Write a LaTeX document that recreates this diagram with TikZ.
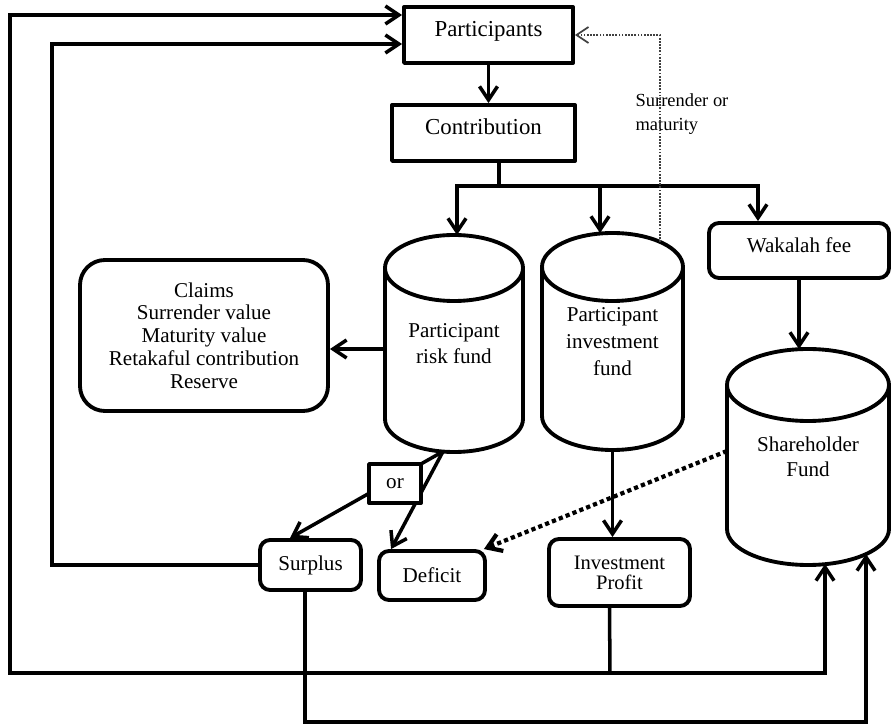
\documentclass[tikz,border=0pt]{standalone}
\usepackage{fontspec}
\setmainfont{Liberation Serif}
\usetikzlibrary{arrows.meta,positioning}
\newcommand{\fundtank}[3]{\draw[boxline]([yshift=-#3]#1.north west)--([yshift=#3]#1.south west) arc[start angle=180,end angle=360,x radius=#2,y radius=#3]--([yshift=-#3]#1.north east) arc[start angle=0,end angle=360,x radius=#2,y radius=#3];}

\begin{document}
\begin{tikzpicture}[
boxline/.style={line width=2.2pt,line join=round},
box/.style={draw,boxline,align=center,font=\fontsize{12}{13}\selectfont},
rbox/.style={box,rounded corners=0.2cm},
tank/.style={outer sep=0pt,align=center,font=\fontsize{12}{14.5}\selectfont},
link/.style={line width=2pt},
arr/.style={link,-{Straight Barb[length=2.7mm,width=3.6mm]}},
dotline/.style={line width=1pt,black!75,dash pattern=on 1pt off 0.8pt,-{Straight Barb[length=2.4mm,width=3.2mm]}},
dotarr/.style={line width=2.4pt,dash pattern=on 2.4pt off 1.8pt,-{Straight Barb[length=2.7mm,width=3.6mm]}}
]
\useasboundingbox (0,0) rectangle (17.86,-14.56);
\node[box,minimum width=3.38cm,minimum height=1.12cm,text depth=0.26cm,font=\fontsize{13}{14}\selectfont](part) at (9.77,-0.7){Participants};
\node[box,minimum width=3.66cm,minimum height=1.12cm,text depth=0.24cm,font=\fontsize{13}{14}\selectfont](contr) at (9.67,-2.66){Contribution};
\node[rbox,minimum width=3.6cm,minimum height=1.1cm,text depth=0.2cm](wak) at (15.98,-5.01){Wakalah fee};
\node[rbox,rounded corners=0.5cm,minimum width=4.96cm,minimum height=3.02cm](claims) at (4.08,-6.71){Claims\\Surrender value\\Maturity value\\Retakaful contribution\\Reserve};
\node[tank,minimum width=2.76cm,minimum height=4.34cm](rf) at (9.08,-6.87){Participant\\risk fund};
\node[tank,minimum width=2.82cm,minimum height=4.34cm,font=\fontsize{12}{15.5}\selectfont](inv) at (12.25,-6.83){Participant\\investment\\fund};
\node[tank,minimum width=3.24cm,minimum height=4.32cm](sh) at (16.16,-9.14){Shareholder\\Fund};
\node[rbox,minimum width=2.02cm,minimum height=1cm](surplus) at (6.21,-11.3){Surplus};
\node[rbox,minimum width=2.12cm,minimum height=0.98cm](deficit) at (8.64,-11.51){Deficit};
\node[rbox,minimum width=2.82cm,minimum height=1.34cm,font=\fontsize{11.7}{11.5}\selectfont](ip) at (12.39,-11.45){Investment\\Profit};
\node[align=left,font=\fontsize{10.5}{14}\selectfont](srlabel) at (13.64,-2.28){Surrender or\\maturity};
\fundtank{rf}{1.38cm}{0.66cm}
\fundtank{inv}{1.41cm}{0.68cm}
\fundtank{sh}{1.62cm}{0.72cm}
\coordinate(split) at (9.98,-3.72);
\coordinate(rfside) at (7.66,-6.98);
\coordinate(rfbot) at (8.86,-9.03);
\coordinate(invtop) at (13.2,-4.84);
\coordinate(shin1) at (16.5,-11.28);
\coordinate(shin2) at (17.32,-11.08);
\coordinate(lowA) at (12.2,-13.46);
\coordinate(c1) at (0.2,-13.46);
\coordinate(c2) at (1.04,-11.3);
\coordinate(c3) at (6.1,-14.44);
\draw[arr](part.south)--(part.south|-contr.north);
\draw[link](contr.south-|split)--(split);
\draw[arr](split)-|([xshift=0.06cm]rf.north);
\draw[arr](split)-|([xshift=-0.25cm]inv.north);
\draw[arr](split)-|([xshift=-0.82cm]wak.north);
\draw[arr](rfside)--(rfside-|claims.east);
\draw[arr](wak.south)--(wak.south|-sh.north);
\draw[arr](rfbot)--([xshift=-0.41cm]surplus.north);
\draw[arr](rfbot)--([xshift=0.28cm]deficit.north west);
\node[box,fill=white,minimum width=1.04cm,minimum height=0.78cm](orbox) at (7.9,-9.67){or};
\draw[arr](inv.south)--(inv.south|-ip.north);
\draw[dotarr]([yshift=0.12cm]sh.west)--([xshift=-0.06cm]deficit.north east);
\draw[dotline](invtop)|-(part.east);
\draw[link]([xshift=-0.2cm]ip.south)--(lowA);
\draw[arr](lowA)-|(shin1);
\draw[arr](lowA)--(c1)|-([yshift=0.4cm]part.west);
\draw[arr](surplus.west)--(c2)|-([yshift=-0.18cm]part.west);
\draw[arr]([xshift=-0.11cm]surplus.south)--(c3)-|(shin2);
\end{tikzpicture}
\end{document}
